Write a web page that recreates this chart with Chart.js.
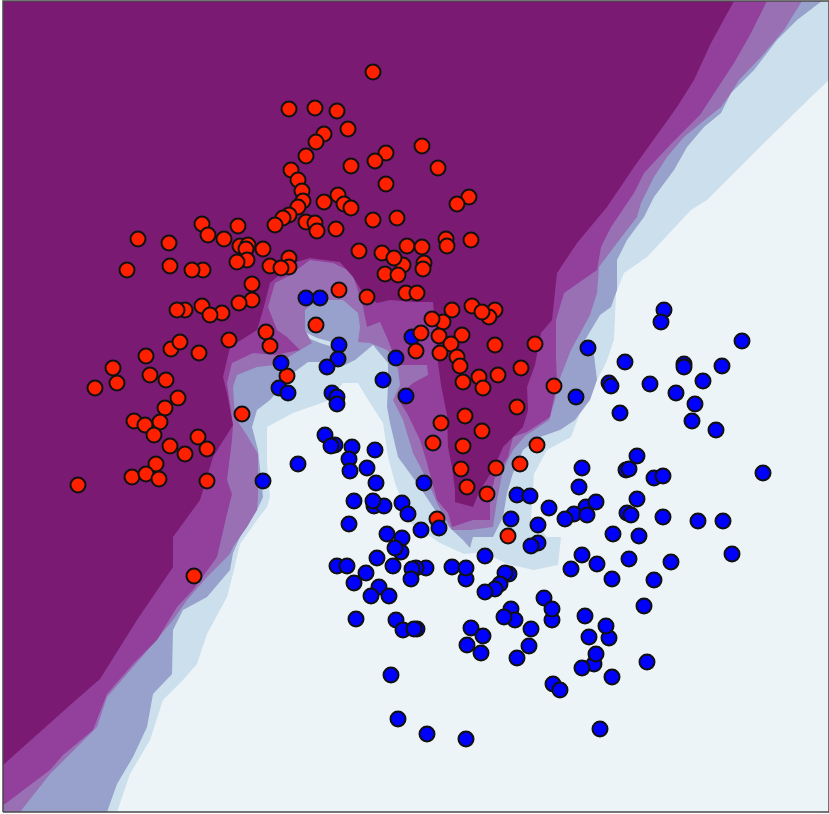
<!DOCTYPE html>
<html>
<head>
<meta charset="utf-8">
<title>Decision boundary</title>
<style>
    html, body { margin: 0; padding: 0; background: #fff; }
    canvas { display: block; filter: blur(0.45px); }
</style>
<script src="https://cdn.jsdelivr.net/npm/chart.js"></script>
</head>
<body>
<canvas id="boundaryChart" width="829" height="814"></canvas>
<script>
// Samples of the two classes as [x, y]
const redPoints = [
    [373,72],[289,109],[315,108],[337,111],[348,129],[324,134],[316,142],[306,156],[351,166],[386,153],
    [375,161],[291,170],[298,180],[302,191],[386,184],[338,195],[324,202],[303,201],[344,204],[351,208],
    [298,207],[289,215],[283,218],[275,225],[306,222],[315,223],[317,231],[336,229],[373,220],[397,218],
    [202,224],[208,235],[238,226],[224,239],[138,239],[169,243],[240,246],[248,245],[246,249],[263,249],
    [359,251],[382,253],[407,246],[403,265],[394,258],[289,258],[247,260],[237,262],[270,266],[289,267],
    [281,268],[170,266],[203,270],[192,270],[127,270],[385,274],[398,275],[252,284],[339,290],[367,297],
    [406,293],[417,293],[252,300],[239,303],[202,306],[185,310],[177,310],[222,313],[210,315],[316,325],
    [266,332],[270,346],[229,340],[171,349],[180,342],[199,353],[146,356],[113,368],[150,375],[117,383],
    [166,380],[95,388],[178,398],[165,408],[287,376],[416,351],[422,146],[438,168],[469,197],[457,204],
    [446,239],[447,246],[422,247],[471,240],[424,263],[423,269],[472,306],[452,310],[495,310],[489,317],
    [482,312],[443,322],[432,319],[421,333],[439,336],[462,335],[451,344],[495,345],[535,344],[440,353],
    [457,357],[460,366],[521,368],[479,377],[498,375],[463,382],[483,388],[554,386],[517,407],[465,416],
    [441,423],[482,431],[433,443],[463,446],[537,445],[520,464],[461,469],[496,468],[467,487],[487,494],
    [437,519],[508,536],[134,421],[145,425],[160,422],[154,435],[242,414],[198,437],[207,449],[170,446],
    [185,454],[156,464],[132,477],[146,474],[159,479],[207,481],[78,485],[194,576]
];
const bluePoints = [
    [306,298],[320,298],[339,345],[338,359],[327,367],[281,363],[396,358],[383,380],[279,388],[288,393],
    [332,393],[337,397],[337,404],[406,396],[664,310],[661,322],[742,341],[588,348],[625,362],[684,364],
    [684,367],[722,366],[609,383],[611,386],[650,384],[703,381],[676,393],[576,397],[695,404],[620,413],
    [692,421],[716,430],[637,456],[626,470],[629,469],[582,468],[654,478],[663,476],[763,473],[424,483],
    [579,487],[637,499],[586,507],[596,502],[517,495],[530,496],[549,508],[627,513],[631,515],[574,514],
    [587,515],[565,519],[663,517],[698,521],[723,521],[511,519],[538,525],[421,530],[613,534],[639,536],
    [538,543],[531,546],[485,556],[732,554],[582,555],[629,559],[597,564],[671,562],[452,567],[466,579],
    [466,568],[426,568],[416,568],[571,569],[612,579],[654,580],[509,574],[505,573],[500,584],[495,589],
    [485,592],[544,598],[644,606],[552,620],[552,609],[511,609],[515,620],[504,617],[585,616],[609,638],
    [606,626],[589,637],[531,629],[471,628],[483,636],[417,629],[529,646],[467,645],[481,653],[517,658],
    [594,664],[596,654],[582,668],[647,662],[612,677],[553,684],[560,690],[600,729],[427,734],[466,739],
    [325,435],[335,445],[331,446],[352,447],[375,450],[349,459],[298,464],[367,468],[350,471],[263,481],
    [376,483],[354,501],[374,506],[384,506],[373,501],[402,503],[408,514],[349,524],[387,534],[402,538],
    [401,552],[395,548],[377,558],[393,566],[412,569],[411,579],[337,566],[347,566],[366,573],[354,583],
    [379,587],[371,596],[389,596],[356,619],[396,620],[403,630],[414,629],[391,675],[398,719]
];
// These overlap a red sample from behind or in front
const blueBehind = [[412,337]];
const blueFront = [[439,528]];

// Contour bands, from the palest to the darkest, each one nested in the previous
const plotFrame = [[3,812],[3,1],[829,1],[829,812],[3,812]];
const bandPale = [[3,1],[829,1],[829,812],[3,812]];
const bandLight = [
    [829,80],[811,97],[764,143],[707,200],[691,210],[647,257],[624,273],[616,293],[614,340],[606,363],
    [597,380],[587,397],[581,410],[571,437],[547,450],[534,474],[531,520],[547,537],[561,537],[558,565],
    [534,570],[507,564],[484,552],[464,554],[440,543],[410,523],[395,483],[388,457],[383,423],[365,395],
    [358,383],[343,383],[330,400],[310,407],[293,413],[267,427],[267,464],[270,497],[267,507],[257,520],
    [240,544],[233,574],[227,597],[207,634],[197,664],[183,680],[163,700],[150,740],[130,774],[117,812],
    [3,812],[3,1],[829,1]
];
const bandPeriwinkle = [
    [822,1],[797,20],[777,40],[754,70],[731,93],[721,113],[704,127],[687,147],[674,170],[654,197],
    [644,217],[627,240],[617,260],[617,290],[611,307],[600,315],[585,340],[594,355],[597,380],[590,400],
    [575,420],[560,430],[540,437],[523,450],[513,473],[507,493],[503,517],[493,537],[473,537],[470,548],
    [463,540],[450,528],[437,513],[417,483],[398,457],[390,423],[387,407],[388,383],[388,363],[373,345],
    [355,360],[345,365],[330,362],[308,362],[293,373],[270,400],[257,410],[252,427],[258,450],[263,497],
    [257,510],[243,530],[233,553],[230,570],[207,597],[183,610],[173,630],[172,674],[153,694],[147,727],
    [133,757],[117,784],[107,812],[3,812],[3,1]
];
const bandTongue = [[305,332],[317,338],[332,342],[333,347],[320,343],[308,338]];
const bandMauve = [
    [802,1],[784,30],[761,57],[739,80],[731,93],[721,107],[701,123],[684,137],[667,157],[654,177],
    [641,203],[637,217],[617,243],[599,267],[597,293],[590,315],[571,350],[558,383],[555,400],[549,420],
    [525,436],[513,450],[503,470],[497,500],[493,527],[470,530],[452,530],[437,503],[427,480],[413,453],
    [403,420],[393,400],[400,385],[398,370],[395,358],[387,350],[370,343],[358,342],[360,327],[358,313],
    [343,300],[317,300],[305,310],[305,330],[312,343],[275,365],[257,367],[237,375],[233,387],[235,417],
    [248,437],[258,454],[258,497],[257,510],[247,527],[233,547],[230,554],[207,577],[187,600],[173,620],
    [153,644],[127,674],[107,697],[97,727],[67,757],[50,774],[20,812],[3,812],[3,1]
];
const bandMagenta = [
    [767,1],[750,35],[734,63],[700,115],[670,145],[644,173],[634,193],[611,227],[601,247],[597,270],
    [564,293],[556,320],[556,357],[557,383],[550,417],[527,432],[513,437],[508,457],[495,477],[490,500],
    [490,520],[473,520],[452,527],[448,513],[437,500],[427,463],[420,440],[408,415],[397,397],[413,383],
    [428,375],[427,365],[400,365],[393,353],[388,340],[380,322],[367,327],[363,307],[352,272],[333,263],
    [310,260],[287,277],[275,283],[268,307],[277,330],[287,337],[300,350],[275,355],[253,353],[232,363],
    [227,383],[228,390],[233,425],[232,440],[227,480],[232,494],[227,514],[217,557],[193,590],[177,607],
    [157,640],[133,664],[107,694],[93,730],[63,755],[50,770],[5,804],[3,804],[3,1]
];
const bandDark = [
    [734,1],[711,43],[694,80],[677,107],[634,167],[607,207],[577,243],[557,273],[552,320],[541,333],
    [535,365],[527,387],[528,410],[523,427],[503,447],[493,470],[480,490],[473,507],[455,502],[455,490],
    [452,467],[448,447],[447,415],[441,385],[438,363],[436,335],[433,302],[415,302],[390,300],[377,303],
    [363,293],[353,277],[340,262],[310,258],[293,263],[270,283],[263,310],[257,330],[230,347],[223,377],
    [227,393],[233,425],[213,457],[207,477],[200,500],[173,537],[173,567],[137,620],[100,679],[77,699],
    [3,765],[3,1]
];

function toXY(pairs) {
    return pairs.map(function (p) {
        return { x: p[0], y: p[1] };
    });
}

function band(pairs, color) {
    return {
        data: toXY(pairs),
        showLine: true,
        fill: 'shape',
        backgroundColor: color,
        borderWidth: 0,
        pointRadius: 0,
        pointHoverRadius: 0
    };
}

function samples(pairs, color) {
    return {
        data: toXY(pairs),
        backgroundColor: color,
        borderColor: '#111111',
        borderWidth: 2,
        pointRadius: 7.5
    };
}

// Paint order, first entry at the bottom
const layers = [
    band(bandPale, '#edf4f8'),
    band(bandLight, '#ccdfed'),
    band(bandPeriwinkle, '#97a1cc'),
    band(bandTongue, '#ccdfed'),
    band(bandMauve, '#9a70b5'),
    band(bandMagenta, '#92409c'),
    band(bandDark, '#7b1a72'),
    {
        data: toXY(plotFrame),
        showLine: true,
        fill: false,
        borderColor: '#4a4a4a',
        borderWidth: 1.5,
        pointRadius: 0,
        clip: false
    },
    samples(blueBehind, '#0000ff'),
    samples(redPoints, '#ff2000'),
    samples(bluePoints, '#0000ff'),
    samples(blueFront, '#0000ff')
];
layers.forEach(function (layer, i) {
    layer.order = layers.length - i;
});

new Chart(document.getElementById('boundaryChart'), {
    type: 'scatter',
    data: { datasets: layers },
    options: {
        responsive: false,
        animation: false,
        devicePixelRatio: 1,
        layout: { autoPadding: false, padding: 0 },
        plugins: {
            legend: { display: false },
            tooltip: { enabled: false }
        },
        scales: {
            x: { type: 'linear', min: 0, max: 829, display: false },
            y: { type: 'linear', min: 0, max: 814, reverse: true, display: false }
        }
    }
});
</script>
</body>
</html>
